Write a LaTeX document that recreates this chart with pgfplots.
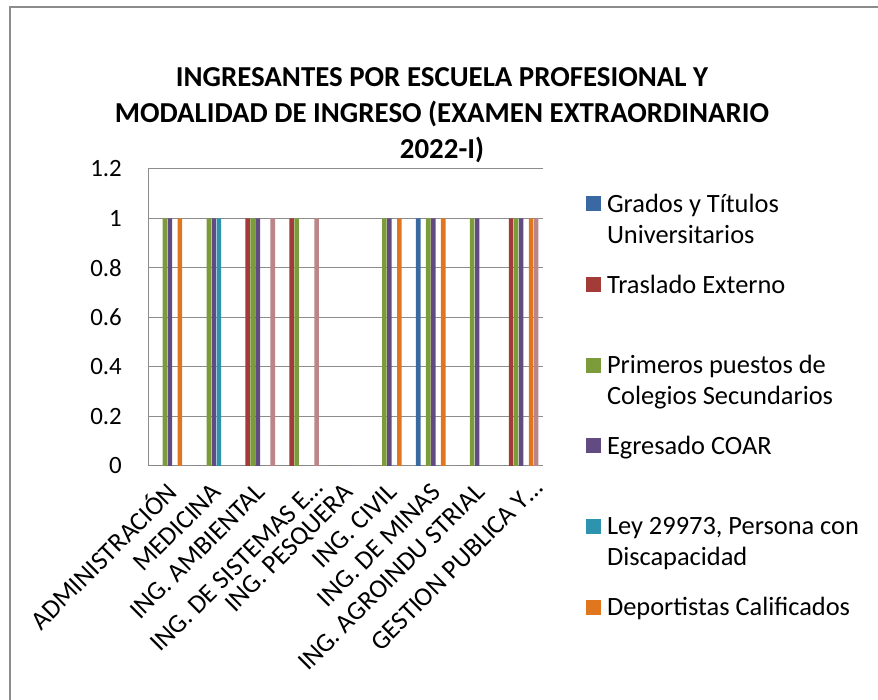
\documentclass[border=0pt]{standalone}
\usepackage{pgfplots}
\pgfplotsset{compat=1.18}
\usepackage{fontspec}
\setmainfont{Carlito}

\definecolor{cBlue}{HTML}{3A68A3}
\definecolor{cRed}{HTML}{A33B38}
\definecolor{cGreen}{HTML}{7C9B3B}
\definecolor{cPurple}{HTML}{624B82}
\definecolor{cTeal}{HTML}{2E93AE}
\definecolor{cOrange}{HTML}{E0761E}
\definecolor{cPink}{HTML}{BC8587}
\definecolor{gridgray}{HTML}{8C8C8C}

\newcommand{\lgd}[1]{\parbox[t]{270bp}{#1}}
% truncated category names sit a little further right in the original
\newcommand{\cut}[1]{\raisebox{-6.4bp}{#1}\hspace*{-13.4bp}}

\begin{document}
\begin{tikzpicture}[x=1bp,y=1bp]
\useasboundingbox (0,0) rectangle (878,700);
\draw[gridgray,line width=1.2bp] (10,0) -- (10,693) -- (878,693);
\node[font=\bfseries\fontsize{29}{36}\selectfont,align=center] at (442,585)
  {INGRESANTES POR ESCUELA PROFESIONAL Y\\MODALIDAD DE INGRESO (EXAMEN EXTRAORDINARIO\\2022-I)};
\begin{axis}[
  at={(148bp,234bp)}, anchor=south west,
  scale only axis, width=395bp, height=297bp,
  ybar, bar width=4.6bp,
  xmin=-0.5, xmax=8.5, ymin=0, ymax=1.2,
  axis lines=left, axis line style={draw=gridgray,line width=1bp,-},
  ymajorgrids, grid style={draw=gridgray,line width=1bp},
  major tick length=0pt,
  ytick={0,0.2,0.4,0.6,0.8,1,1.2},
  yticklabels={0,0.2,0.4,0.6,0.8,1,1.2},
  xtick={0,1,2,3,4,5,6,7,8},
  xticklabels={ADMINISTRACIÓN,MEDICINA,ING. AMBIENTAL,\cut{ING. DE SISTEMAS E…},ING. PESQUERA,ING. CIVIL,ING. DE MINAS,ING. AGROINDU STRIAL,\cut{GESTION PUBLICA Y…}},
  tick label style={inner sep=0pt},
  yticklabel style={font=\fontsize{25}{30}\selectfont,anchor=east,xshift=-26bp},
  xticklabel style={font=\fontsize{26.5}{32}\selectfont,xshift=9bp,yshift=-28bp,rotate=45,anchor=base east},
  legend cell align=left,
  legend style={at={(1.1089,0.9377)},anchor=north west,draw=none,fill=none,
    inner sep=0pt,outer sep=0pt,row sep=0pt,column sep=0pt,
    font=\fontsize{26.5}{31}\selectfont,
    nodes={inner sep=0pt,text height=15bp,text depth=5bp,anchor=west}},
  legend image code/.code={
    \path (0bp,-60.6bp) (21bp,20bp);
    \fill[#1] (0bp,-4bp) rectangle (15bp,11bp);
  },
]
\addplot[fill=cBlue,draw=none,bar shift=-15bp] coordinates {(0,0) (1,0) (2,0) (3,0) (4,0) (5,0) (6,1) (7,0) (8,0)};
\addplot[fill=cRed,draw=none,bar shift=-10bp] coordinates {(0,0) (1,0) (2,1) (3,1) (4,0) (5,0) (6,0) (7,0) (8,1)};
\addplot[fill=cGreen,draw=none,bar shift=-5bp] coordinates {(0,1) (1,1) (2,1) (3,1) (4,0) (5,1) (6,1) (7,1) (8,1)};
\addplot[fill=cPurple,draw=none,bar shift=0bp] coordinates {(0,1) (1,1) (2,1) (3,0) (4,0) (5,1) (6,1) (7,1) (8,1)};
\addplot[fill=cTeal,draw=none,bar shift=5bp] coordinates {(0,0) (1,1) (2,0) (3,0) (4,0) (5,0) (6,0) (7,0) (8,0)};
\addplot[fill=cOrange,draw=none,bar shift=10bp] coordinates {(0,1) (1,0) (2,0) (3,0) (4,0) (5,1) (6,1) (7,0) (8,1)};
\addplot[fill=cPink,draw=none,bar shift=15bp] coordinates {(0,0) (1,0) (2,1) (3,1) (4,0) (5,0) (6,0) (7,0) (8,1)};
\legend{{\lgd{Grados y Títulos\\Universitarios}},{\lgd{Traslado Externo}},{\lgd{Primeros puestos de\\Colegios Secundarios}},{\lgd{Egresado COAR}},{\lgd{Ley 29973, Persona con\\Discapacidad}},{\lgd{Deportistas Calificados}}}
\end{axis}
\end{tikzpicture}
\end{document}
